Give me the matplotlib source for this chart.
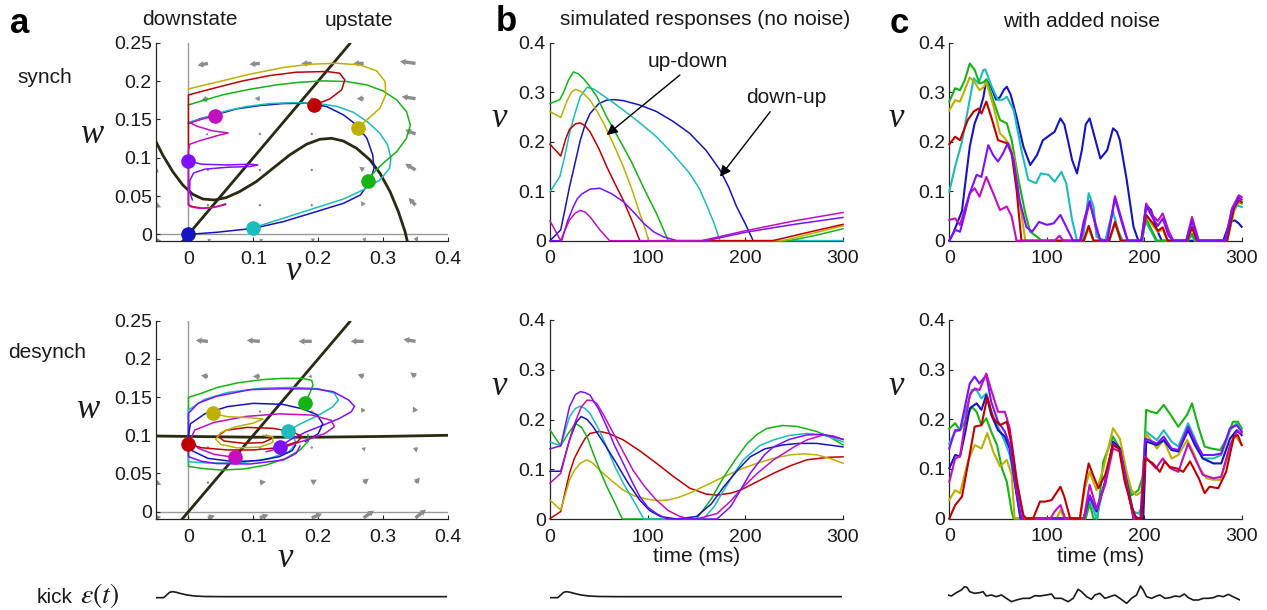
import numpy as np
import matplotlib
matplotlib.use("Agg")
import matplotlib.pyplot as plt

plt.rcParams["font.family"] = ["Liberation Sans", "DejaVu Sans"]
plt.rcParams["mathtext.fontset"] = "stix"

# ---------------- colours ----------------
c_blue = "#1414c0"
c_cyan = "#1cbcbc"
c_green = "#14b414"
c_yellow = "#bcb000"
c_red = "#c00000"
c_violet = "#7c10ff"
c_magenta = "#c010c0"
c_null = "#2a2a12"

# ---------------- panel a, synch (v, w) ----------------
a1_null_line = [(-0.012, -0.012), (0.25, 0.25)]
a1_null_cubic = [(-0.0526, 0.1253), (-0.0397, 0.1036), (-0.0242, 0.0818), (-0.0088, 0.0644),
                 (0.0067, 0.0522), (0.0222, 0.0461), (0.0402, 0.0448), (0.0582, 0.0479),
                 (0.0788, 0.0557), (0.1046, 0.0688), (0.1303, 0.0862), (0.1561, 0.1036),
                 (0.1819, 0.1175), (0.2025, 0.1240), (0.2205, 0.1253), (0.2385, 0.1218),
                 (0.2591, 0.1123), (0.2798, 0.0970), (0.2952, 0.0796), (0.3107, 0.0557),
                 (0.3235, 0.0296), (0.3338, 0.0035), (0.3375, -0.0096)]
a1_blue = [(0, 0), (0.043, 0.0026), (0.1, 0.0078), (0.146, 0.0165), (0.197, 0.0296), (0.239, 0.0405),
           (0.265, 0.0513), (0.28, 0.069), (0.286, 0.0862), (0.284, 0.1036), (0.275, 0.1253),
           (0.259, 0.1427), (0.239, 0.1558), (0.213, 0.1667), (0.182, 0.171), (0.146, 0.1706),
           (0.11, 0.168), (0.074, 0.1636), (0.041, 0.1558), (0.017, 0.1506), (0, 0.1445)]
a1_cyan = [(0.1, 0.0087), (0.146, 0.0209), (0.197, 0.0348), (0.239, 0.0461), (0.269, 0.0579),
           (0.295, 0.0709), (0.31, 0.086), (0.312, 0.0992), (0.307, 0.1166), (0.295, 0.1318),
           (0.277, 0.146), (0.254, 0.1593), (0.228, 0.1671), (0.197, 0.171), (0.161, 0.1719),
           (0.125, 0.1706), (0.089, 0.1667), (0.058, 0.161), (0.032, 0.154), (0.012, 0.1488), (0, 0.1462)]
a1_green = [(0.277, 0.070), (0.282, 0.0775), (0.3, 0.0927), (0.321, 0.1079), (0.336, 0.1253),
            (0.342, 0.1427), (0.336, 0.1601), (0.321, 0.1753), (0.3, 0.187), (0.275, 0.1949),
            (0.244, 0.1993), (0.208, 0.2002), (0.172, 0.1984), (0.136, 0.195), (0.095, 0.1893),
            (0.053, 0.182), (0.017, 0.1732), (0, 0.1688)]
a1_yellow = [(0.261, 0.1384), (0.275, 0.1493), (0.295, 0.1645), (0.304, 0.1819), (0.303, 0.1993),
             (0.29, 0.2133), (0.264, 0.2211), (0.228, 0.2232), (0.187, 0.2219), (0.146, 0.2176),
             (0.095, 0.209), (0.043, 0.1984), (0, 0.1897)]
a1_red = [(0.194, 0.1688), (0.218, 0.1767), (0.236, 0.1884), (0.241, 0.2015), (0.233, 0.2102),
          (0.213, 0.2124), (0.166, 0.2115), (0.125, 0.2071), (0.084, 0.2002), (0.043, 0.1915),
          (0, 0.1819), (0, 0.038), (0.007, 0.0361), (0.022, 0.0339), (0.043, 0.0361), (0.057, 0.0396)]
a1_magenta = [(0.041, 0.1545), (0.02, 0.15), (0.003, 0.1455), (0.012, 0.1414), (0.037, 0.135),
              (0.061, 0.1323), (0.043, 0.1284), (0.017, 0.122), (0.002, 0.1175), (0, 0.11), (0, 0.04),
              (0.003, 0.036), (0.017, 0.0339), (0.037, 0.0348), (0.057, 0.0387)]
a1_violet = [(0, 0.0962), (0.02, 0.0915), (0.06, 0.0905), (0.095, 0.0915), (0.107, 0.0905),
             (0.095, 0.0885), (0.06, 0.0875), (0.025, 0.085), (0.008, 0.08), (0.002, 0.07),
             (0.002, 0.055), (0.006, 0.045)]
a1_dots = [(0, 0), (0.1, 0.0078), (0.277, 0.070), (0.261, 0.1384), (0.194, 0.1688), (0.041, 0.1545), (0, 0.0962)]
a1_dot_colors = [c_blue, c_cyan, c_green, c_yellow, c_red, c_magenta, c_violet]

# ---------------- panel a, desynch (v, w) ----------------
a2_null_line = [(-0.012, -0.012), (0.25, 0.25)]
a2_null_flat = [(-0.05, 0.099), (0.05, 0.098), (0.1, 0.0975), (0.2, 0.0975), (0.3, 0.0985), (0.4, 0.1)]
a2_green = [(0.179, 0.1418), (0.187, 0.1549), (0.192, 0.1658), (0.19, 0.1719), (0.175, 0.1745),
            (0.145, 0.1745), (0.113, 0.1728), (0.077, 0.1688), (0.045, 0.1627), (0.018, 0.1544),
            (0, 0.1497), (0, 0.0593), (0.02, 0.0567), (0.05, 0.0545), (0.085, 0.0558), (0.12, 0.0611),
            (0.15, 0.0698), (0.172, 0.0807), (0.185, 0.0925), (0.184, 0.101)]
a2_cyan = [(0.1535, 0.106), (0.175, 0.116), (0.2, 0.126), (0.222, 0.137), (0.231, 0.146), (0.225, 0.155),
           (0.2, 0.161), (0.16, 0.1628), (0.11, 0.1615), (0.06, 0.156), (0.025, 0.147), (0, 0.1331),
           (0, 0.0654), (0.03, 0.0637), (0.08, 0.0637), (0.125, 0.0698), (0.155, 0.0785),
           (0.166, 0.0894), (0.162, 0.0985)]
a2_violet = [(0.1406, 0.0851), (0.156, 0.0938), (0.182, 0.1047), (0.208, 0.1134), (0.233, 0.1222),
             (0.251, 0.1309), (0.256, 0.1378), (0.247, 0.1461), (0.223, 0.1571), (0.197, 0.1605),
             (0.146, 0.161), (0.095, 0.1597), (0.043, 0.151), (0.015, 0.142), (0, 0.1287), (0, 0.072),
             (0.02, 0.066), (0.043, 0.063), (0.095, 0.0624), (0.146, 0.0676), (0.166, 0.0763), (0.172, 0.086)]
a2_blue = [(0.18, 0.092), (0.2, 0.102), (0.207, 0.115), (0.198, 0.127), (0.175, 0.1348), (0.145, 0.1405),
           (0.1, 0.1418), (0.06, 0.1375), (0.025, 0.128), (0.003, 0.115), (0, 0.1), (0.005, 0.08),
           (0.03, 0.0698), (0.07, 0.0655), (0.11, 0.067), (0.14, 0.072), (0.16, 0.08), (0.165, 0.087)]
a2_magenta = [(0.071, 0.0711), (0.04, 0.075), (0.015, 0.083), (0.003, 0.095), (0.01, 0.107), (0.04, 0.117),
              (0.09, 0.1248), (0.14, 0.128), (0.19, 0.1265), (0.22, 0.1196), (0.225, 0.1113),
              (0.21, 0.1022), (0.18, 0.0935), (0.15, 0.0851), (0.12, 0.0785)]
a2_red = [(0, 0.0886), (0.02, 0.0837), (0.06, 0.0808), (0.1, 0.0808), (0.14, 0.0838), (0.168, 0.0916),
          (0.175, 0.0983), (0.16, 0.1047), (0.13, 0.1091), (0.09, 0.1103), (0.058, 0.1065),
          (0.045, 0.099), (0.055, 0.0925), (0.085, 0.0895), (0.115, 0.0905), (0.128, 0.0955), (0.12, 0.1)]
a2_yellow = [(0.0376, 0.1287), (0.06, 0.1243), (0.095, 0.123), (0.115, 0.1213), (0.1, 0.116),
             (0.07, 0.1105), (0.05, 0.1035), (0.042, 0.095), (0.05, 0.088), (0.075, 0.0835),
             (0.11, 0.0845), (0.13, 0.0905), (0.13, 0.098), (0.115, 0.1)]
a2_dots = [(0, 0.0886), (0.0376, 0.1287), (0.071, 0.0711), (0.1406, 0.0851), (0.1535, 0.106), (0.179, 0.1418)]
a2_dot_colors = [c_red, c_yellow, c_magenta, c_violet, c_cyan, c_green]

# ---------------- vector field (grid and arrows) ----------------
q_v = [-0.05, 0.03, 0.11, 0.19, 0.27, 0.35]
q_w = [-0.008, 0.038, 0.084, 0.131, 0.177, 0.223]
nan = np.nan
a1_du = [[0.006, 0.004, 0.004, 0.004, 0.003, 0.003],
         [0.006, 0.0005, 0.002, 0.002, -0.003, -0.008],
         [0.003, -0.002, 0.0005, 0.0005, -0.005, -0.012],
         [-0.003, -0.003, -0.002, -0.0005, -0.004, -0.012],
         [nan, -0.008, -0.006, -0.003, -0.008, -0.016],
         [nan, -0.012, -0.012, -0.012, -0.012, -0.018]]
a1_dw = [[0, 0.001, 0.001, 0.002, 0.003, 0.004],
         [-0.002, 0, 0.001, 0.001, 0.004, 0.007],
         [-0.003, 0, 0, 0, 0.003, 0.006],
         [-0.002, -0.001, 0, 0, 0.001, 0.004],
         [nan, -0.002, 0, 0, 0, 0.002],
         [nan, -0.002, -0.001, 0, 0, 0.002]]
a2_du = [[0.006, 0.008, 0.01, 0.012, 0.012, 0.012],
         [0.006, 0.002, 0.007, 0.006, 0.006, 0.005],
         [nan, 0.0005, 0.0005, 0.001, 0.001, 0.001],
         [nan, -0.002, -0.002, -0.001, -0.003, -0.003],
         [nan, -0.008, -0.008, -0.004, -0.007, -0.006],
         [nan, -0.014, -0.015, -0.015, -0.015, -0.014]]
a2_dw = [[0.001, 0.002, 0.003, 0.004, 0.007, 0.008],
         [-0.002, -0.001, 0.001, 0.003, 0.004, 0.005],
         [nan, 0, 0, -0.001, -0.004, -0.005],
         [nan, 0, 0, 0.001, 0.004, 0.005],
         [nan, 0.001, 0, 0, 0.002, 0.004],
         [nan, 0.001, 0.001, 0, 0, 0.002]]

# ---------------- panel b, simulated responses (t, v) ----------------
b1_green = [(0, 0.277), (10, 0.285), (14, 0.3), (19, 0.325), (24, 0.341), (29, 0.337), (34, 0.328),
            (41, 0.311), (48, 0.291), (58, 0.25), (66, 0.222), (75, 0.19), (84, 0.157), (92, 0.123),
            (100, 0.09), (109, 0.055), (115, 0.028), (121, 0), (245, 0), (270, 0.01), (300, 0.024)]
b1_yellow = [(0, 0.261), (11, 0.249), (14, 0.265), (18, 0.285), (22, 0.3), (26, 0.306), (33, 0.3),
             (41, 0.284), (48, 0.262), (55, 0.237), (65, 0.195), (75, 0.15), (84, 0.103), (92, 0.055),
             (97, 0.027), (101, 0), (238, 0), (265, 0.013), (300, 0.03)]
b1_red = [(0, 0.195), (11, 0.171), (16, 0.205), (20, 0.225), (26, 0.236), (31, 0.238), (36, 0.232),
          (41, 0.22), (50, 0.186), (58, 0.15), (66, 0.117), (75, 0.082), (84, 0.04), (92, 0), (228, 0),
          (260, 0.015), (300, 0.033)]
b1_cyan = [(0, 0.099), (10, 0.129), (15, 0.17), (20, 0.217), (26, 0.26), (31, 0.291), (38, 0.31),
           (45, 0.306), (51, 0.298), (62, 0.283), (75, 0.264), (92, 0.238), (109, 0.21), (126, 0.175),
           (143, 0.136), (153, 0.105), (161, 0.069), (168, 0.035), (174, 0), (300, 0)]
b1_blue = [(0, 0), (11, 0.022), (15, 0.06), (20, 0.109), (26, 0.16), (31, 0.203), (36, 0.235),
           (41, 0.257), (50, 0.277), (58, 0.284), (66, 0.285), (75, 0.283), (92, 0.274), (109, 0.261),
           (126, 0.241), (143, 0.217), (160, 0.182), (174, 0.143), (183, 0.108), (191, 0.069),
           (200, 0.034), (208, 0), (300, 0)]
b1_violet = [(0, 0), (12, 0), (18, 0.04), (24, 0.069), (28, 0.085), (33, 0.095), (41, 0.104), (51, 0.106),
             (63, 0.095), (75, 0.079), (86, 0.057), (96, 0.035), (106, 0.018), (116, 0.008), (130, 0),
             (160, 0), (200, 0.017), (250, 0.033), (300, 0.047)]
b1_magenta = [(0, 0.04), (11, 0), (15, 0.02), (20, 0.042), (26, 0.056), (31, 0.061), (36, 0.058),
              (41, 0.048), (51, 0.022), (61, 0), (155, 0), (200, 0.02), (250, 0.04), (300, 0.057)]

b2_green = [(0, 0.179), (11, 0.147), (18, 0.17), (26, 0.192), (32, 0.185), (38, 0.165), (44, 0.133),
            (51, 0.098), (58, 0.066), (65, 0.038), (74, 0), (150, 0), (165, 0.04), (178, 0.085),
            (190, 0.12), (202, 0.152), (212, 0.17), (222, 0.182), (238, 0.188), (253, 0.186),
            (273, 0.176), (288, 0.163), (300, 0.149)]
b2_cyan = [(0, 0.155), (11, 0.147), (20, 0.206), (26, 0.222), (31, 0.227), (36, 0.222), (41, 0.212),
           (50, 0.18), (58, 0.145), (66, 0.107), (75, 0.072), (89, 0.025), (96, 0), (157, 0), (168, 0.025),
           (178, 0.058), (188, 0.09), (198, 0.119), (215, 0.148), (229, 0.159), (245, 0.168), (263, 0.172),
           (280, 0.169), (300, 0.155)]
b2_blue = [(0, 0.096), (11, 0.096), (20, 0.159), (27, 0.195), (32, 0.206), (38, 0.2), (44, 0.186),
           (56, 0.15), (68, 0.112), (80, 0.072), (92, 0.038), (102, 0.017), (113, 0.005), (130, 0),
           (150, 0.005), (165, 0.03), (178, 0.065), (192, 0.098), (205, 0.125), (220, 0.141),
           (239, 0.149), (255, 0.152), (273, 0.152), (300, 0.145)]
b2_violet = [(0, 0.141), (11, 0.147), (20, 0.226), (26, 0.25), (31, 0.256), (36, 0.254), (41, 0.249),
             (50, 0.22), (58, 0.186), (66, 0.148), (75, 0.112), (84, 0.075), (92, 0.045), (100, 0.024),
             (109, 0.011), (120, 0), (171, 0), (185, 0.025), (195, 0.058), (205, 0.092), (220, 0.13),
             (229, 0.145), (245, 0.16), (263, 0.169), (280, 0.17), (300, 0.16)]
b2_magenta = [(0, 0.072), (11, 0.092), (18, 0.145), (24, 0.186), (32, 0.225), (38, 0.239), (43, 0.238),
              (48, 0.232), (56, 0.205), (65, 0.172), (75, 0.135), (85, 0.098), (97, 0.065), (109, 0.038),
              (121, 0.017), (133, 0.005), (143, 0), (150, 0), (171, 0.011), (185, 0.036), (198, 0.065),
              (213, 0.093), (229, 0.119), (250, 0.145), (263, 0.159), (280, 0.169), (290, 0.167), (300, 0.16)]
b2_red = [(0, 0.001), (11, 0.015), (15, 0.05), (20, 0.092), (25, 0.122), (31, 0.145), (36, 0.162),
          (41, 0.172), (51, 0.176), (60, 0.172), (75, 0.159), (92, 0.137), (109, 0.112), (126, 0.086),
          (143, 0.062), (160, 0.05), (171, 0.048), (185, 0.052), (195, 0.058), (212, 0.075),
          (229, 0.092), (246, 0.107), (263, 0.119), (285, 0.124), (300, 0.125)]
b2_yellow = [(0, 0.038), (11, 0.018), (15, 0.045), (20, 0.078), (25, 0.098), (31, 0.112), (38, 0.119),
             (44, 0.112), (51, 0.098), (63, 0.077), (75, 0.058), (87, 0.046), (99, 0.04), (110, 0.037),
             (120, 0.038), (131, 0.043), (143, 0.052), (160, 0.068), (178, 0.085), (195, 0.1), (212, 0.112),
             (229, 0.122), (246, 0.129), (260, 0.131), (273, 0.129), (288, 0.121), (300, 0.112)]

# ---------------- panel c, with added noise (t, v) ----------------
c1_blue = [(0, 0), (4, 0.015), (9, 0.04), (13, 0.06), (16, 0.11), (21, 0.19), (26, 0.237), (31, 0.262),
           (35, 0.29), (38, 0.325), (43, 0.31), (48, 0.285), (52, 0.29), (56, 0.305), (59, 0.311),
           (63, 0.295), (69, 0.25), (76, 0.19), (83, 0.153), (90, 0.173), (96, 0.203), (103, 0.213),
           (108, 0.22), (114, 0.247), (118, 0.235), (122, 0.2), (126, 0.163), (131, 0.136), (136, 0.183),
           (140, 0.235), (144, 0.247), (149, 0.21), (155, 0.166), (162, 0.183), (168, 0.227), (172, 0.22),
           (175, 0.203), (182, 0.123), (189, 0.028), (194, 0), (198, 0), (202, 0.072), (207, 0.062),
           (213, 0.022), (218, 0), (281, 0), (288, 0.038), (293, 0.041), (297, 0.035), (300, 0.028)]
c1_cyan = [(0, 0.099), (6, 0.15), (13, 0.2), (19, 0.264), (25, 0.328), (30, 0.318), (35, 0.345), (37, 0.346),
           (43, 0.314), (50, 0.284), (55, 0.285), (59, 0.291), (66, 0.264), (74, 0.183), (81, 0.123),
           (89, 0.116), (94, 0.136), (102, 0.133), (108, 0.119), (115, 0.139), (120, 0.116), (126, 0.042),
           (131, 0), (137, 0), (143, 0.096), (148, 0.069), (151, 0.008), (160, 0), (165, 0.04), (168, 0.059),
           (173, 0.022), (178, 0), (198, 0), (201, 0.04), (208, 0.015), (212, 0), (244, 0), (248, 0.012),
           (252, 0), (284, 0), (290, 0.065), (295, 0.072), (300, 0.068)]
c1_green = [(0, 0.281), (6, 0.308), (11, 0.304), (16, 0.325), (21, 0.358), (26, 0.345), (31, 0.318),
            (35, 0.32), (38, 0.326), (45, 0.284), (52, 0.244), (59, 0.237), (64, 0.203), (71, 0.123),
            (78, 0.055), (83, 0.018), (90, 0.008), (95, 0), (138, 0), (143, 0.028), (148, 0), (164, 0),
            (170, 0.035), (176, 0), (197, 0), (202, 0.045), (208, 0.02), (213, 0), (245, 0), (249, 0.014),
            (253, 0), (285, 0), (292, 0.06), (297, 0.078), (300, 0.075)]
c1_yellow = [(0, 0.263), (6, 0.284), (11, 0.281), (16, 0.305), (21, 0.33), (26, 0.32), (31, 0.304),
             (35, 0.31), (38, 0.32), (45, 0.274), (52, 0.217), (57, 0.207), (62, 0.193), (67, 0.163),
             (72, 0.081), (78, 0), (138, 0), (143, 0.025), (148, 0), (164, 0), (170, 0.037), (176, 0),
             (197, 0), (202, 0.05), (209, 0.03), (214, 0.018), (219, 0.022), (224, 0), (244, 0),
             (249, 0.025), (254, 0), (285, 0), (292, 0.06), (297, 0.08), (300, 0.077)]
c1_red = [(0, 0.195), (6, 0.21), (11, 0.203), (19, 0.244), (25, 0.261), (30, 0.267), (33, 0.257),
          (38, 0.281), (43, 0.25), (50, 0.203), (59, 0.197), (64, 0.176), (69, 0.103), (74, 0), (138, 0),
          (143, 0.03), (148, 0), (164, 0), (170, 0.038), (176, 0), (197, 0), (202, 0.052), (209, 0.035),
          (214, 0.02), (219, 0.027), (224, 0), (244, 0), (249, 0.028), (254, 0), (285, 0), (292, 0.065),
          (297, 0.082), (300, 0.078)]
c1_violet = [(0, 0), (6, 0.022), (11, 0.018), (16, 0.055), (21, 0.096), (28, 0.133), (33, 0.129),
             (40, 0.193), (45, 0.173), (50, 0.16), (55, 0.176), (60, 0.197), (66, 0.163), (72, 0.082),
             (79, 0.028), (85, 0.018), (92, 0.038), (100, 0.032), (107, 0.035), (114, 0.052), (120, 0.028),
             (127, 0), (134, 0), (138, 0.04), (144, 0.08), (150, 0.03), (155, 0), (162, 0), (170, 0.085),
             (178, 0.03), (183, 0), (197, 0), (202, 0.07), (209, 0.045), (214, 0.03), (219, 0.045),
             (225, 0.01), (230, 0), (243, 0), (249, 0.04), (255, 0), (283, 0), (290, 0.06), (297, 0.087),
             (300, 0.083)]
c1_magenta = [(0, 0.042), (6, 0.045), (11, 0.032), (16, 0.065), (21, 0.096), (26, 0.106), (31, 0.089),
              (38, 0.129), (45, 0.096), (52, 0.062), (59, 0.069), (64, 0.049), (69, 0), (108, 0),
              (113, 0.01), (117, 0), (135, 0), (138, 0.03), (144, 0.078), (150, 0.035), (155, 0), (162, 0),
              (170, 0.09), (178, 0.035), (183, 0), (197, 0), (202, 0.075), (209, 0.05), (214, 0.04),
              (219, 0.055), (225, 0.02), (230, 0), (243, 0), (249, 0.048), (256, 0), (283, 0), (290, 0.065),
              (297, 0.092), (300, 0.088)]

c2_green = [(0, 0.181), (6, 0.192), (11, 0.178), (16, 0.195), (23, 0.225), (28, 0.215), (33, 0.188),
            (38, 0.202), (43, 0.175), (49, 0.148), (54, 0.101), (59, 0.074), (64, 0.014), (66, 0), (140, 0),
            (144, 0.03), (148, 0), (152, 0), (158, 0.115), (168, 0.165), (175, 0.141), (182, 0.081),
            (187, 0.047), (194, 0.057), (199, 0.088), (202, 0.219), (207, 0.215), (213, 0.212), (220, 0.229),
            (227, 0.209), (235, 0.185), (244, 0.209), (249, 0.232), (256, 0.182), (262, 0.145), (269, 0.141),
            (278, 0.138), (285, 0.162), (291, 0.195), (296, 0.195), (300, 0.182)]
c2_red = [(0, 0), (6, 0.027), (13, 0.044), (19, 0.108), (26, 0.185), (33, 0.188), (39, 0.245), (45, 0.202),
          (52, 0.188), (59, 0.195), (64, 0.148), (69, 0.074), (76, 0.007), (79, 0), (86, 0), (93, 0.034),
          (98, 0.034), (105, 0.037), (114, 0.064), (118, 0.044), (124, 0), (134, 0), (139, 0.07),
          (143, 0.111), (148, 0.085), (153, 0.061), (160, 0.088), (168, 0.148), (174, 0.141), (180, 0.074),
          (187, 0.024), (192, 0), (197, 0), (201, 0.121), (209, 0.111), (216, 0.094), (221, 0.115),
          (226, 0.104), (233, 0.101), (240, 0.094), (247, 0.115), (256, 0.081), (262, 0.051), (267, 0.064),
          (276, 0.061), (284, 0.094), (292, 0.165), (296, 0.168), (300, 0.148)]
c2_yellow = [(0, 0.037), (6, 0.057), (11, 0.051), (19, 0.115), (26, 0.148), (33, 0.141), (39, 0.172),
             (45, 0.135), (52, 0.105), (59, 0.118), (64, 0.088), (67, 0), (110, 0), (114, 0.017), (118, 0),
             (134, 0), (139, 0.06), (144, 0.094), (151, 0.057), (158, 0.1), (168, 0.182), (175, 0.161),
             (182, 0.094), (187, 0.057), (192, 0.047), (197, 0.054), (202, 0.171), (213, 0.141),
             (220, 0.158), (228, 0.121), (235, 0.128), (244, 0.158), (250, 0.135), (257, 0.101),
             (264, 0.081), (271, 0.078), (278, 0.078), (285, 0.121), (292, 0.168), (296, 0.16), (300, 0.148)]
c2_blue = [(0, 0.101), (6, 0.128), (11, 0.125), (16, 0.17), (21, 0.222), (28, 0.232), (33, 0.219),
           (38, 0.249), (43, 0.209), (50, 0.178), (57, 0.165), (62, 0.141), (67, 0.074), (73, 0), (138, 0),
           (144, 0.045), (151, 0.014), (160, 0.074), (168, 0.155), (175, 0.141), (182, 0.074), (189, 0.007),
           (194, 0), (199, 0), (202, 0.155), (213, 0.148), (220, 0.158), (228, 0.138), (235, 0.135),
           (245, 0.178), (252, 0.148), (260, 0.121), (271, 0.111), (279, 0.111), (288, 0.161),
           (295, 0.178), (300, 0.168)]
c2_cyan = [(0, 0.151), (6, 0.175), (11, 0.178), (16, 0.21), (23, 0.259), (28, 0.259), (33, 0.242),
           (38, 0.252), (43, 0.215), (50, 0.185), (57, 0.155), (62, 0.128), (67, 0.074), (73, 0), (138, 0),
           (144, 0.04), (151, 0.0), (160, 0.078), (168, 0.151), (175, 0.141), (182, 0.074), (189, 0.014),
           (194, 0.01), (199, 0.027), (202, 0.175), (213, 0.158), (220, 0.178), (228, 0.155), (235, 0.145),
           (245, 0.192), (252, 0.161), (260, 0.121), (271, 0.121), (279, 0.128), (288, 0.178),
           (295, 0.192), (300, 0.178)]
c2_violet = [(0, 0.141), (6, 0.178), (11, 0.178), (16, 0.225), (21, 0.272), (26, 0.286), (31, 0.272),
             (38, 0.289), (43, 0.235), (50, 0.195), (57, 0.175), (62, 0.148), (69, 0.054), (74, 0), (138, 0),
             (144, 0.047), (151, 0.017), (160, 0.074), (168, 0.151), (175, 0.138), (182, 0.071), (189, 0),
             (196, 0), (201, 0.161), (213, 0.151), (220, 0.165), (228, 0.141), (235, 0.138), (245, 0.185),
             (252, 0.155), (260, 0.128), (271, 0.128), (279, 0.131), (288, 0.182), (295, 0.188), (300, 0.175)]
c2_magenta = [(0, 0.074), (6, 0.121), (11, 0.125), (16, 0.19), (21, 0.249), (26, 0.262), (31, 0.259),
              (38, 0.292), (43, 0.259), (50, 0.215), (57, 0.215), (62, 0.182), (69, 0.081), (76, 0),
              (104, 0), (108, 0.014), (114, 0.027), (119, 0), (138, 0), (144, 0.068), (151, 0.02),
              (160, 0.068), (168, 0.141), (175, 0.135), (182, 0.068), (189, 0), (197, 0), (201, 0.125),
              (212, 0.101), (219, 0.121), (227, 0.101), (235, 0.094), (245, 0.151), (252, 0.121),
              (260, 0.088), (271, 0.081), (279, 0.084), (288, 0.148), (295, 0.175), (300, 0.172)]

# ---------------- kick traces (t, epsilon, arbitrary units) ----------------
kick_smooth = [(0, 0.7), (8, 0.7), (11, 1.5), (14, 2.3), (17, 2.5), (21, 2.3), (26, 1.9), (32, 1.5),
               (40, 1.2), (50, 1.05), (70, 1.0), (300, 1.0)]
kick_noise = [(0, 1.5), (3.4, 1.2), (8.6, 2.2), (13.7, 3.0), (17.1, 4.0), (19.5, 3.8), (22.3, 2.5),
              (27.4, 2.0), (32.6, 2.2), (36, 2.5), (39.4, 1.2), (44.6, 1.5), (49.7, 1.0), (54.9, 1.5),
              (60, 0.5), (65.2, -0.5), (70.3, 0), (77.2, 0.5), (84, 0.5), (89.2, 1.3), (94.3, 1.2),
              (101.2, 1.5), (106.3, 1.8), (109.7, 0.5), (116.6, 0.5), (123.4, -0.5), (128.6, 0.5),
              (133.7, 3.2), (137.2, 2.5), (142.3, 1.0), (147.4, 0.2), (150.9, 1.5), (156, 2.0), (161.2, 0.5),
              (166.3, 1.0), (171.5, 1.5), (176.6, 0.5), (183.5, -1.0), (188.6, 0.5), (193.7, 1.5),
              (197.8, 4.2), (200.6, 3.0), (204, 1.0), (209.2, 0.5), (214.3, 1.2), (217.7, 1.5), (222.9, 0.5),
              (228, 0.7), (233.2, 1.2), (238.3, 1.0), (242.8, 1.8), (246.9, 0.7), (252, 0), (257.2, 0),
              (262.3, 0.5), (267.5, 0.5), (272.6, 0.7), (277.7, 1.3), (282.9, 1.0), (288, 1.7), (291.4, 1.2),
              (294.9, 0.7), (300, 0)]

# --------------------------------------------------------------------------
W, H = 1267, 610
fig = plt.figure(figsize=(W / 100, H / 100), dpi=100)
fig.patch.set_facecolor("white")


def add_ax(left, top, right, bottom):
    return fig.add_axes([left / W, 1 - bottom / H, (right - left) / W, (bottom - top) / H])


def style(ax):
    for s in ["top", "right"]:
        ax.spines[s].set_visible(False)
    for s in ["left", "bottom"]:
        ax.spines[s].set_color("#262626")
        ax.spines[s].set_linewidth(0.9)
    ax.tick_params(direction="in", length=3, width=0.8, labelsize=14, color="#262626", labelcolor="#1a1a1a")
    ax.tick_params(axis="x", pad=7)
    ax.tick_params(axis="y", pad=3)
    ax.patch.set_alpha(0)


def ftext(x, y, s, **kw):
    fig.text(x / W, 1 - y / H, s, **kw)


def xy(pairs):
    arr = np.array(pairs, dtype=float)
    return arr[:, 0], arr[:, 1]


# ----- phase planes -----
def phase_plane(ax, nulls, trajs, dots, dot_cols, du, dw):
    style(ax)
    ax.set_xlim(-0.05, 0.4)
    ax.axvline(0, color="#9a9a9a", lw=1.0, zorder=1)
    ax.axhline(0, color="#9a9a9a", lw=1.0, zorder=1)
    V, Wg = np.meshgrid(q_v, q_w)
    ax.quiver(V, Wg, np.array(du), np.array(dw), angles="xy", scale_units="xy", scale=0.75,
              color="#8c8c8c", width=0.0115, headwidth=2.0, headlength=1.8, headaxislength=1.6,
              minlength=0.8, zorder=2)
    for pts in nulls:
        x, y = xy(pts)
        ax.plot(x, y, color=c_null, lw=2.0, zorder=3, solid_capstyle="butt")
    for pts, col in trajs:
        x, y = xy(pts)
        ax.plot(x, y, color=col, lw=1.1, zorder=4)
    for (x, y), col in zip(dots, dot_cols):
        ax.plot(x, y, "o", ms=9.5, color=col, mec=col, zorder=6)
    ax.set_xticks([0, 0.1, 0.2, 0.3, 0.4])
    ax.set_xticklabels(["0", "0.1", "0.2", "0.3", "0.4"])
    ax.set_yticks([0, 0.05, 0.1, 0.15, 0.2, 0.25])
    ax.set_yticklabels(["0", "0.05", "0.1", "0.15", "0.2", "0.25"])


axa1 = add_ax(156, 42.7, 448, 241)
axa1.set_ylim(-0.0087, 0.25)
phase_plane(axa1, [a1_null_line, a1_null_cubic],
            [(a1_blue, c_blue), (a1_cyan, c_cyan), (a1_green, c_green), (a1_yellow, c_yellow),
             (a1_red, c_red), (a1_violet, c_violet), (a1_magenta, c_magenta)],
            a1_dots, a1_dot_colors, a1_du, a1_dw)

axa2 = add_ax(156, 320.7, 448, 519)
axa2.set_ylim(-0.0096, 0.25)
phase_plane(axa2, [a2_null_line, a2_null_flat],
            [(a2_green, c_green), (a2_cyan, c_cyan), (a2_violet, c_violet), (a2_blue, c_blue),
             (a2_magenta, c_magenta), (a2_red, c_red), (a2_yellow, c_yellow)],
            a2_dots, a2_dot_colors, a2_du, a2_dw)


# ----- time series -----
def time_panel(ax, series, lw):
    style(ax)
    ax.set_xlim(0, 300)
    ax.set_ylim(0, 0.4)
    for pts, col in series:
        x, y = xy(pts)
        ax.plot(x, y, color=col, lw=lw, clip_on=False, zorder=3)
    ax.set_xticks([0, 100, 200, 300])
    ax.set_yticks([0, 0.1, 0.2, 0.3, 0.4])
    ax.set_yticklabels(["0", "0.1", "0.2", "0.3", "0.4"])


axb1 = add_ax(550, 42.7, 843, 240.7)
time_panel(axb1, [(b1_blue, c_blue), (b1_cyan, c_cyan), (b1_green, c_green), (b1_yellow, c_yellow),
                  (b1_red, c_red), (b1_violet, c_violet), (b1_magenta, c_magenta)], 1.1)
axb1.annotate("", xy=(58, 0.2135), xytext=(133, 0.3347),
              arrowprops=dict(arrowstyle="-|>", color="black", lw=1.0, mutation_scale=16,
                              shrinkA=0, shrinkB=0), zorder=5)
axb1.annotate("", xy=(174, 0.1293), xytext=(225.5, 0.2606),
              arrowprops=dict(arrowstyle="-|>", color="black", lw=1.0, mutation_scale=16,
                              shrinkA=0, shrinkB=0), zorder=5)
axb1.text(141.4, 0.351, "up-down", ha="center", va="baseline", fontsize=15, color="#1a1a1a")
axb1.text(241.9, 0.278, "down-up", ha="center", va="baseline", fontsize=15, color="#1a1a1a")

axb2 = add_ax(550, 320, 843, 519)
time_panel(axb2, [(b2_red, c_red), (b2_yellow, c_yellow), (b2_green, c_green), (b2_cyan, c_cyan),
                  (b2_blue, c_blue), (b2_magenta, c_magenta), (b2_violet, c_violet)], 1.1)

axc1 = add_ax(949.3, 42.7, 1241.7, 240.7)
time_panel(axc1, [(c1_blue, c_blue), (c1_cyan, c_cyan), (c1_green, c_green), (c1_yellow, c_yellow),
                  (c1_red, c_red), (c1_magenta, c_magenta), (c1_violet, c_violet)], 1.5)

axc2 = add_ax(949.3, 320, 1241.7, 518.5)
time_panel(axc2, [(c2_green, c_green), (c2_cyan, c_cyan), (c2_yellow, c_yellow), (c2_blue, c_blue),
                  (c2_violet, c_violet), (c2_magenta, c_magenta), (c2_red, c_red)], 1.5)

# ----- kick traces -----
for (left, right), pts in [((156, 447), kick_smooth), ((550, 842), kick_smooth), ((948, 1240), kick_noise)]:
    axk = add_ax(left, 580, right, 610)
    x, y = xy(pts)
    axk.plot(x, y, color="#1a1a1a", lw=1.2)
    axk.set_xlim(0, 300)
    axk.set_ylim(-3, 6)
    axk.axis("off")

# ----- text -----
txt = dict(fontsize=15, color="#1a1a1a")
ftext(10, 33, "a", fontsize=25, fontweight="bold")
ftext(496, 31, "b", fontsize=25, fontweight="bold")
ftext(890, 33, "c", fontsize=25, fontweight="bold")
ftext(190, 25, "downstate", ha="center", va="baseline", **txt)
ftext(359, 26.5, "upstate", ha="center", va="baseline", **txt)
ftext(17, 83, "synch", ha="left", va="baseline", **txt)
ftext(8, 358, "desynch", ha="left", va="baseline", **txt)
ftext(705, 25, "simulated responses (no noise)", ha="center", va="baseline", **txt)
ftext(1082, 27, "with added noise", ha="center", va="baseline", **txt)
ftext(697, 562, "time (ms)", ha="center", va="baseline", **txt)
ftext(1101, 562, "time (ms)", ha="center", va="baseline", **txt)
ftext(37, 603, "kick", ha="left", va="baseline", **txt)
ftext(80, 603, r"$\varepsilon(t)$", ha="left", va="baseline", fontsize=20, color="#1a1a1a")

serif = dict(family=["Liberation Serif", "DejaVu Serif"], style="italic", fontsize=25,
             color="#1a1a1a", ha="center", va="baseline")
ftext(92, 143, "w", **serif)
ftext(88, 418, "w", **serif)
ftext(293, 280, "v", **serif)
ftext(285, 567, "v", **serif)
ftext(499, 127, "v", **serif)
ftext(499, 395, "v", **serif)
ftext(896, 127, "v", **serif)
ftext(896, 395, "v", **serif)

fig.savefig("out.png", dpi=100, facecolor="white")
